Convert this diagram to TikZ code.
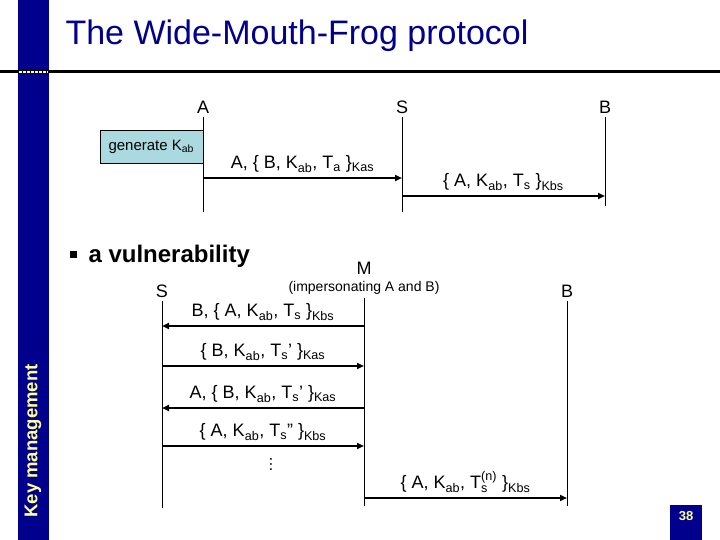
\documentclass[tikz,border=0pt]{standalone}
\usepackage{amsmath}
\usepackage{fontspec}
\setmainfont{Liberation Sans}
\usetikzlibrary{positioning, arrows.meta}
\definecolor{navy}{RGB}{0,0,140}
\definecolor{keyyellow}{RGB}{255,255,153}
\definecolor{boxcyan}{RGB}{170,218,224}
\begin{document}
\begin{tikzpicture}[x=1pt,y=-1pt,
    party/.style={font=\fontsize{18}{20}\selectfont},
    msg/.style={font=\fontsize{18}{20}\selectfont},
    life/.style={line width=0.8pt},
    send/.style={line width=2pt,-{Triangle[length=7pt,width=6pt]}}]
    \useasboundingbox (0,0) rectangle (720,540);
    % frame
    \fill[navy] (18,0) rectangle (49,540);
    \draw[line width=3pt] (0,72) -- (720,72);
    \draw[keyyellow,line width=2pt,dash pattern=on 2.5pt off 1.5pt] (19,72) -- (48,72);
    \node[navy,anchor=west,font=\fontsize{34}{36}\selectfont] (title) at (62,36) {The Wide-Mouth-Frog protocol};
    \node[keyyellow,rotate=90,font=\bfseries\fontsize{18.5}{20}\selectfont] (side) at (33,441) {Key management};
    \fill[navy] (670,505) rectangle (702,540);
    \node[keyyellow,font=\bfseries\fontsize{13}{15}\selectfont] (page) at (686,516) {38};
    % protocol
    \node[party] (a) at (203,107) {A};
    \node[party] (s) at (402,107) {S};
    \node[party] (b) at (605,107) {B};
    \coordinate (aend) at (203,212);
    \coordinate (send) at (402,212);
    \coordinate (bend) at (605,206);
    \draw[life] (a.south) -- (aend);
    \draw[life] (s.south) -- (send);
    \draw[life] (b.south) -- (bend);
    \node[draw,fill=boxcyan,minimum width=103pt,minimum height=33pt,anchor=north east,font=\fontsize{15}{17}\selectfont] (gen) at (203,130) {generate K$_{\text{ab}}$};
    \coordinate (a1) at (203,178);
    \coordinate (s1) at (402,178);
    \coordinate (s2) at (402,196);
    \coordinate (b2) at (605,196);
    \draw[send] (a1) -- (s1) node[msg,midway,above=1pt] {A, \{ B, K$_{\text{ab}}$, T$_{\text{a}}$ \}$_{\text{Kas}}$};
    \draw[send] (s2) -- (b2) node[msg,midway,above=1pt] {\{ A, K$_{\text{ab}}$, T$_{\text{s}}$ \}$_{\text{Kbs}}$};
    % vulnerability
    \node[anchor=west,font=\bfseries\fontsize{24}{26}\selectfont] (bullet) at (66,256) {\rule[4pt]{7pt}{7pt}\hspace{12pt}a vulnerability};
    \node[party] (m) at (364,268) {M};
    \node[font=\fontsize{14}{16}\selectfont] (imp) at (364,288) {(impersonating A and B)};
    \node[party] (sv) at (162,291) {S};
    \node[party] (bv) at (567,291) {B};
    \coordinate (sl) at (162,508);
    \coordinate (ml) at (364,506);
    \coordinate (bl) at (567,506);
    \draw[life] (sv.south) -- (sl);
    \draw[life] (imp.south) -- (ml);
    \draw[life] (bv.south) -- (bl);
    \foreach \y/\dir/\txt in {326/l/{B, \{ A, K$_{\text{ab}}$, T$_{\text{s}}$ \}$_{\text{Kbs}}$},
                              366/r/{\{ B, K$_{\text{ab}}$, T$_{\text{s}}$’ \}$_{\text{Kas}}$},
                              408/l/{A, \{ B, K$_{\text{ab}}$, T$_{\text{s}}$’ \}$_{\text{Kas}}$},
                              446/r/{\{ A, K$_{\text{ab}}$, T$_{\text{s}}$” \}$_{\text{Kbs}}$}} {
        \coordinate (p\y) at (162,\y);
        \coordinate (q\y) at (364,\y);
        \if\dir l
            \draw[send] (q\y) -- (p\y) node[msg,midway,above=1pt] {\txt};
        \else
            \draw[send] (p\y) -- (q\y) node[msg,midway,above=1pt] {\txt};
        \fi
    }
    \node[font=\fontsize{16}{18}\selectfont] (dots) at (271,464) {\rotatebox{90}{\dots}};
    \coordinate (mn) at (364,498);
    \coordinate (bn) at (567,498);
    \draw[send] (mn) -- (bn) node[msg,midway,above=1pt] {\{ A, K$_{\text{ab}}$, T$_{\text{s}}^{\text{(n)}}$ \}$_{\text{Kbs}}$};
\end{tikzpicture}
\end{document}
